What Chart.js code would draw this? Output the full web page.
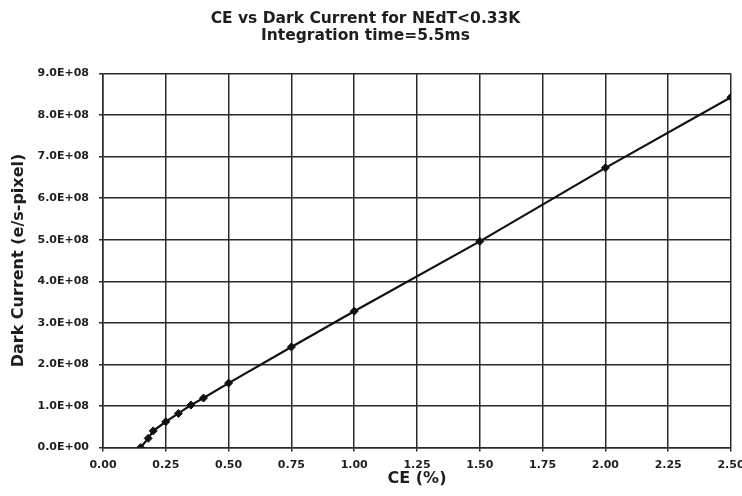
<!DOCTYPE html>
<html>
<head>
<meta charset="utf-8">
<script src="https://cdn.jsdelivr.net/npm/chart.js@4"></script>
<style>
html,body{margin:0;padding:0;background:#fff;}
#wrap{width:742px;height:496px;position:relative;}
</style>
</head>
<body>
<div id="wrap"><canvas id="c" width="742" height="496"></canvas></div>
<script>
const titleLines = ["CE vs Dark Current for NEdT<0.33K", "Integration time=5.5ms"];
const xTitle = "CE (%)";
const yTitle = "Dark Current (e/s-pixel)";
const ceValues = [0.15, 0.18, 0.20, 0.25, 0.30, 0.35, 0.40, 0.50, 0.75, 1.00, 1.50, 2.00, 2.50];
const darkCurrent = [0, 0.22e8, 0.40e8, 0.62e8, 0.82e8, 1.02e8, 1.19e8, 1.55e8, 2.42e8, 3.28e8, 4.96e8, 6.73e8, 8.43e8];
const xTickStep = 0.25, xMax = 2.5;
const yTickStep = 1e8, yMax = 9e8;

const points = ceValues.map((x, i) => ({x: x, y: darkCurrent[i]}));
const FONT = "'DejaVu Sans', Verdana, sans-serif";
const INK = '#1e1e1e';

new Chart(document.getElementById('c'), {
  type: 'scatter',
  data: {
    datasets: [{
      data: points,
      showLine: true,
      borderColor: '#111',
      borderWidth: 2.2,
      backgroundColor: '#111',
      pointStyle: 'rectRot',
      pointRadius: 4,
      pointBorderWidth: 1,
      pointBorderColor: '#111',
      tension: 0
    }]
  },
  options: {
    responsive: false,
    animation: false,
    devicePixelRatio: 1,
    layout: {padding: {left: 0, right: 11, top: 0, bottom: 0}},
    plugins: {
      legend: {display: false},
      tooltip: {enabled: false},
      title: {
        display: true,
        text: titleLines,
        color: INK,
        font: {family: FONT, size: 15.5, weight: 'bold', lineHeight: 1.065},
        padding: {top: 11, bottom: 29.5}
      }
    },
    scales: {
      x: {
        type: 'linear',
        min: 0, max: xMax,
        afterFit: s => { s.height = 48.5; s.paddingLeft = 0; s.paddingRight = 0; },
        grid: {color: '#2a2a2a', lineWidth: 1.5, tickLength: 4, drawTicks: true},
        border: {color: '#2a2a2a', width: 1.5},
        ticks: {
          stepSize: xTickStep,
          color: INK,
          padding: 7,
          maxRotation: 0,
          font: {family: FONT, size: 11, weight: 'bold'},
          callback: v => Number(v).toFixed(2)
        },
        title: {
          display: true, text: xTitle, color: INK,
          font: {family: FONT, size: 16, weight: 'bold'},
          padding: {top: 0, bottom: 7.4}
        }
      },
      y: {
        type: 'linear',
        min: 0, max: yMax,
        afterFit: s => { s.width = 103; s.paddingTop = 0; s.paddingBottom = 0; },
        grid: {color: '#2a2a2a', lineWidth: 1.5, tickLength: 4},
        border: {color: '#2a2a2a', width: 1.5},
        ticks: {
          stepSize: yTickStep,
          color: INK,
          padding: 10,
          font: {family: FONT, size: 11, weight: 'bold'},
          callback: v => v === 0 ? '0.0E+00' : (v / 1e8).toFixed(1) + 'E+08'
        },
        title: {
          display: true, text: yTitle, color: INK,
          font: {family: FONT, size: 16, weight: 'bold'},
          padding: {top: 9, bottom: 0}
        }
      }
    }
  },
  plugins: [{
    id: 'bg',
    beforeDraw: c => { const g = c.ctx; g.save(); g.fillStyle = '#fff'; g.fillRect(0, 0, c.width, c.height); g.restore(); }
  }]
});
</script>
</body>
</html>
